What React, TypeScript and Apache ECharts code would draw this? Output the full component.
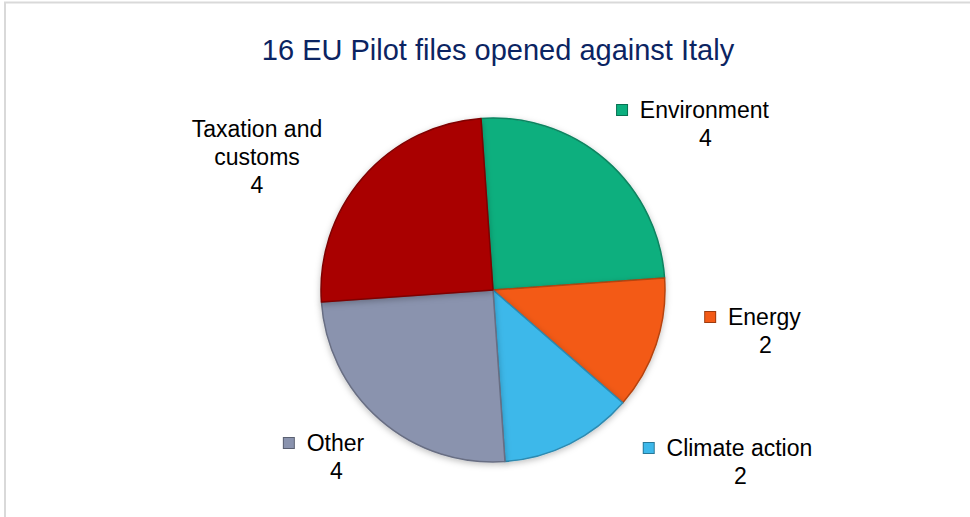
import React, { useEffect, useRef } from "react";
import * as echarts from "echarts";

const TITLE = "16 EU Pilot files opened against Italy";
const categories = ["Environment", "Energy", "Climate action", "Other", "Taxation and customs"];
const values = [4, 2, 2, 4, 4];
const colors = ["#0BAF7E", "#F35A16", "#3DB8EA", "#8A93AE", "#A90205"];
const showIcon = [true, true, true, true, false];
// label anchor (center) positions, style only
const labelPos: Record<string, [number, number]> = {
  "Environment": [693, 124],
  "Energy": [753, 331],
  "Climate action": [728, 462],
  "Other": [324, 457],
  "Taxation and customs": [257, 157],
};

function shade(hex: string, f: number) {
  const n = parseInt(hex.slice(1), 16);
  const r = (n >> 16) & 255, g = (n >> 8) & 255, b = n & 255;
  const m = (c: number) => Math.max(0, Math.min(255, Math.round(f >= 0 ? c + (255 - c) * f : c * (1 + f))));
  return `rgb(${m(r)},${m(g)},${m(b)})`;
}

export default function App() {
  const ref = useRef<HTMLDivElement>(null);
  useEffect(() => {
    if (!ref.current) return;
    const chart = echarts.init(ref.current, null, { renderer: "svg" });
    const FS = 23;
    const rich: any = {
      name: { fontSize: FS, color: "#000", fontFamily: "Liberation Sans", lineHeight: 28 },
      val: { fontSize: FS, color: "#000", fontFamily: "Liberation Sans", lineHeight: 28 },
      pad: { width: 25, height: 10 },
    };
    categories.forEach((c, i) => {
      rich["icon" + i] = {
        width: 10,
        height: 10,
        backgroundColor: colors[i],
        borderColor: shade(colors[i], -0.35),
        borderWidth: 1,
      };
    });
    const data = categories.map((c, i) => ({
      name: c,
      value: values[i],
      itemStyle: {
        color: colors[i],
        borderColor: shade(colors[i], -0.25),
      },
      label: {
        formatter: showIcon[i]
          ? `{icon${i}|}  {name|${c}}\n{pad|}{val|${values[i]}}`
          : `{name|Taxation and}\n{name|customs}\n{val|${values[i]}}`,
      },
    }));
    chart.setOption({
      animation: false,
      title: {
        text: TITLE,
        left: 493,
        top: 30,
        textAlign: "center",
        textStyle: { fontSize: 29, fontWeight: "normal", color: "#0B2462", fontFamily: "Liberation Sans" },
      },
      graphic: [
        {
          type: "rect",
          shape: { x: 5, y: 2.5, width: 1000, height: 600 },
          style: { fill: "none", stroke: "#D9D9D9", lineWidth: 2 },
        },
      ],
      series: [
        {
          type: "pie",
          center: [493, 290],
          radius: 172,
          startAngle: 94,
          clockwise: true,
          data,
          itemStyle: {
            borderWidth: 1.5,
            shadowBlur: 6,
            shadowColor: "rgba(0,0,0,0.25)",
            shadowOffsetY: 2,
          },
          label: {
            show: true,
            position: "outside",
            align: "center",
            rich,
            fontSize: FS,
            fontFamily: "Liberation Sans",
            color: "#000",
            lineHeight: 28,
          },
          labelLine: { show: false },
          labelLayout: (p: any) => {
            const name = categories[p.dataIndex];
            const pos = labelPos[name];
            return { x: pos[0], y: pos[1], align: "center", verticalAlign: "middle" };
          },
          emphasis: { disabled: true },
        },
      ],
    });
    return () => chart.dispose();
  }, []);
  return (
    <div
      ref={ref}
      style={{ position: "absolute", left: 0, top: 0, width: 970, height: 517, background: "#fff" }}
    />
  );
}
